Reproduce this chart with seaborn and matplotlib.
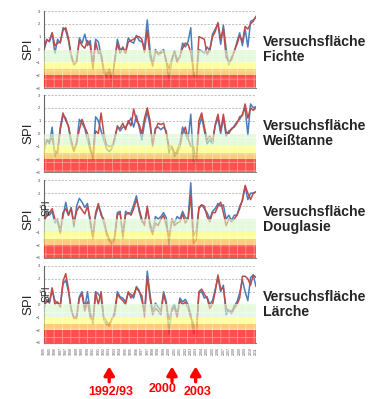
import numpy as np
import pandas as pd
import matplotlib
matplotlib.use("Agg")
import matplotlib.pyplot as plt
import seaborn as sns

# Jahre (Schritt: 4 Monate), 1985 - 2011
years = np.round(np.arange(79) / 3 + 1985, 3)

# SPI-Werte je Versuchsfläche (blau / rot)
fichte_blau = [0.1, 0.8, 0.6, 1.3, -0.3, 0.8, 0.5, 1.7, 1.5, 0.7, -0.6, -1.2, -1.0, 0.9, 0.5, 1.2,
               0.3, 0.7, -1.3, 0.8, 0.6, -0.5, -1.8, -2.2, -1.5, -2.2, -1.0, 0.8, 0.0, 0.1, -0.2, 0.9,
               0.6, 0.5, 1.1, 0.7, 0.6, 0.2, 2.3, 0.0, -1.2, 0.0, -0.3, -0.2, 0.0, -1.0, -2.4, -0.9,
               -0.1, -0.8, -0.6, 0.5, 0.2, 0.6, 1.7, -2.0, -2.2, 0.0, -0.1, -0.3, 0.2, -0.1, 1.2, 1.6,
               2.0, 0.4, 1.9, 0.1, -1.2, -0.6, -0.2, 0.6, 1.3, 0.3, 1.6, 0.2, 2.2, 2.3, 2.5]
fichte_rot = [0.0, 0.7, 0.7, 1.3, 0.3, 0.5, 0.6, 1.5, 1.7, 0.9, -0.4, -1.1, -0.9, 0.7, 0.3, 0.1,
              0.7, 0.3, -1.5, 0.6, -0.3, -0.3, -1.5, -2.0, -1.7, -2.4, -0.8, 0.5, -0.3, 0.2, -0.3, 0.6,
              0.7, 0.8, 1.0, 1.0, 0.8, -0.2, 1.5, -0.5, -1.3, -0.1, -0.4, -0.3, -0.1, -0.9, -1.5, -0.7,
              -0.2, -1.0, -0.5, 0.1, 0.5, 0.4, -0.2, -1.7, -2.5, 1.0, 0.9, 0.8, -0.4, 0.0, 1.0, 1.4,
              2.1, 0.8, 1.6, -0.6, -0.9, -0.8, -0.1, 0.4, 1.1, 0.6, 1.8, 1.6, 2.0, 2.2, 2.6]

tanne_blau = [-1.4, -0.5, -0.8, 0.5, -1.8, -1.3, 0.3, 1.4, 1.2, 0.5, -0.8, -1.4, -0.8, 1.1, 0.8, 0.4,
              -0.5, -1.3, -1.8, 1.3, 1.0, 0.2, -0.5, -1.2, -1.4, -1.2, -0.5, 0.6, 0.2, 0.5, 0.5, 0.8,
              1.2, 0.5, 1.4, 0.5, -0.5, 0.8, 1.7, 0.6, -0.8, 0.4, 0.5, 0.3, 0.5, 0.2, -1.5, -1.0,
              -1.8, -1.3, -0.7, 0.5, 0.0, -0.5, 1.5, -2.2, -2.3, 0.5, 1.3, 0.2, -0.8, -0.5, -0.8, 0.6,
              1.2, 0.0, 1.2, -0.2, 0.2, 0.3, 0.6, 0.9, 1.1, 1.5, 2.0, -0.1, 2.3, 2.0, 2.1]
tanne_rot = [-1.2, -0.5, -0.6, -0.3, -1.4, -1.5, 0.5, 1.6, 1.0, 0.6, -0.5, -1.3, -0.7, 0.3, 1.1, 0.5,
             0.0, -1.0, -2.0, 0.2, 0.0, 1.6, 0.0, -0.9, -1.0, -1.0, -0.3, 0.5, 0.4, 0.8, 0.3, 1.0,
             0.6, 1.9, 1.0, 0.7, 0.0, 1.2, 2.0, 1.0, -1.0, 0.3, 0.8, 0.7, 0.8, 0.0, -1.0, -1.0,
             -1.5, -1.6, -1.0, 0.0, 0.5, -0.4, -1.0, -1.0, -2.2, 1.0, 1.6, 0.5, -0.5, -0.2, -0.6, 0.7,
             1.5, 0.2, 1.5, 0.1, 0.0, 0.4, 0.5, 0.8, 1.3, 1.4, 2.3, 1.2, 2.0, 1.8, 2.0]

douglasie_blau = [-0.3, 0.5, 0.3, 0.6, -0.3, 0.0, -1.0, 0.2, 1.3, 0.3, 0.9, -0.6, 1.0, 1.6, 1.3, 0.9,
                  1.2, -0.3, -1.4, 0.3, 1.0, 0.5, -0.3, -1.2, -1.7, -1.8, -1.3, 0.5, 0.6, -1.5, 0.6, 0.4,
                  0.5, 1.1, 1.8, 0.6, -0.2, -0.3, 0.8, -0.3, -1.0, 0.2, 0.0, 0.2, 0.5, 0.1, -2.0, 0.0,
                  -0.3, 0.2, 0.0, 0.6, 0.1, 0.0, 2.8, -1.3, -0.9, 0.8, 1.1, 0.8, 0.5, 0.0, 0.6, 0.8,
                  1.2, 1.0, 1.1, 0.0, 0.3, -0.1, 0.3, 0.3, 1.0, 1.4, 2.5, 1.5, 2.0, 2.0, 2.1]
douglasie_rot = [-0.2, 0.3, 0.5, 0.8, 0.0, -0.2, -1.1, 0.5, 0.8, 0.3, 0.8, -0.3, 0.6, 1.0, 0.7, 0.4,
                 1.0, 0.0, -1.5, 0.5, 1.2, 0.3, 0.0, -1.0, -1.5, -2.0, -1.5, 0.3, 0.5, -1.3, 0.3, 0.5,
                 0.3, 0.8, 1.5, 0.8, 0.0, -0.5, 1.0, -0.6, -1.2, -0.3, -0.5, 0.0, 0.3, -0.5, -1.5, 0.0,
                 -0.5, -0.3, -0.2, 0.4, -0.3, 0.0, 1.8, -1.9, -1.6, 0.9, 1.1, 1.0, 0.2, -0.2, 0.5, 0.5,
                 1.0, 1.3, 0.5, -0.5, 0.0, -0.2, 0.0, 0.3, 0.8, 1.5, 2.6, 2.0, 1.5, 2.0, 2.1]

laerche_blau = [-0.3, 0.4, 0.1, 1.1, 0.3, 0.1, 0.0, 1.6, 1.9, 1.0, -0.3, -1.1, -0.9, 0.6, 1.0, -0.3,
                1.0, -0.6, -1.5, 1.0, 0.8, 0.5, -1.2, -1.6, -1.5, -1.2, -0.5, 1.0, 0.6, 0.5, 0.2, 0.9,
                0.8, 0.5, 1.4, 1.1, 0.3, -0.6, 2.6, 0.8, -0.6, 0.1, -0.2, -0.5, 1.0, 0.2, -2.3, -0.3,
                0.0, -0.8, 0.5, 0.2, 0.4, 0.0, -0.8, -2.3, -2.0, 0.9, 1.0, 0.5, 0.6, 0.0, 0.3, 1.2,
                2.1, 1.0, 1.5, -0.8, -0.4, -0.6, -0.1, 0.2, 0.9, 1.9, 1.0, 0.3, 2.1, 2.3, 1.4]
laerche_rot = [-0.2, 0.3, 0.2, 1.3, 0.0, 0.2, -0.2, 1.8, 2.4, 1.2, -0.5, -1.0, -1.1, 0.5, 0.8, -0.5,
               0.2, -1.0, -1.3, 0.9, 0.0, 1.0, -1.0, -1.3, -1.7, -1.1, -0.8, 0.8, 0.5, 0.3, 0.0, 1.0,
               0.5, 0.8, 1.3, 1.0, 0.7, -1.0, 2.2, 0.5, -0.8, -0.3, -0.5, -0.8, 0.8, 0.0, -1.2, -0.5,
               -0.2, -1.0, 0.3, 0.0, 0.2, -0.3, -1.0, -1.5, -2.7, 1.0, 1.2, 0.8, 0.5, -0.3, 0.0, 1.0,
               2.3, 1.2, 1.3, -0.3, -0.5, -0.7, -0.3, 0.0, 0.5, 2.2, 2.2, 2.0, 1.5, 2.3, 2.1]

flaechen = ["Versuchsfläche\nFichte", "Versuchsfläche\nWeißtanne",
            "Versuchsfläche\nDouglasie", "Versuchsfläche\nLärche"]
serien = [(fichte_blau, fichte_rot), (tanne_blau, tanne_rot),
          (douglasie_blau, douglasie_rot), (laerche_blau, laerche_rot)]

# Trockenheitsklassen (SPI-Bereiche)
band_grenzen = [(-1.0, 0.0), (-1.5, -1.0), (-2.0, -1.5), (-3.0, -2.0)]
band_farben = ["#d4f5c6", "#ffff66", "#ffb84d", "#ff3030"]
band_alpha = [0.6, 0.65, 0.72, 0.85]

tick_jahre = [1985, 1985, 1986, 1987, 1987, 1988, 1989, 1989, 1990, 1991, 1991, 1992, 1993,
              1993, 1994, 1995, 1995, 1996, 1997, 1997, 1998, 1999, 1999, 2000, 2001, 2001,
              2002, 2003, 2003, 2004, 2005, 2005, 2006, 2007, 2007, 2008, 2009, 2009, 2010, 2011]

pfeil_jahre = [1993.0, 2000.7, 2003.6]
pfeil_texte = ["1992/93", "2000", "2003"]
text_jahre = [1993.2, 1999.6, 2003.8]
text_hoehe = [-0.64, -0.60, -0.64]

BLAU = "#4a7ebb"
ROT = "#be4b48"

sns.set_style("white")
plt.rcParams['font.family'] = ['Liberation Sans', 'DejaVu Sans']
plt.rcParams['hatch.linewidth'] = 0.6

fig = plt.figure(figsize=(3.81, 3.99), dpi=100)

panel_unten = [0.7794, 0.5689, 0.3534, 0.1404]
panel_hoehe = [0.193, 0.193, 0.195, 0.193]

achsen = []
for k in range(4):
    ax = fig.add_axes([0.1155, panel_unten[k], 0.5564, panel_hoehe[k]])
    achsen.append(ax)
    blau, rot = serien[k]
    df = pd.DataFrame({"Jahr": years, "blau": blau, "rot": rot})
    sns.lineplot(data=df, x="Jahr", y="blau", color=BLAU, lw=1.1, ax=ax, zorder=2)
    sns.lineplot(data=df, x="Jahr", y="rot", color=ROT, lw=1.1, ax=ax, zorder=2.1)

    for (lo, hi), farbe, a in zip(band_grenzen, band_farben, band_alpha):
        ax.axhspan(lo, hi, facecolor=farbe, alpha=a, lw=0, zorder=3)
        ax.axhspan(lo, hi, facecolor="none", edgecolor="white", hatch="++",
                   alpha=0.4, lw=0, zorder=3.1)

    ax.set_xlim(1985, 2011)
    ax.set_ylim(-3, 3)
    ax.set_yticks([-3, -2, -1, 0, 1, 2, 3])
    ax.tick_params(axis="y", labelsize=3, length=1.5, width=0.4, pad=1, colors="#444444")
    for y in [1, 2, 3]:
        ax.axhline(y, color="#aaaaaa", lw=0.5, ls=(0, (3, 2)), zorder=1)
    ax.set_xlabel("")
    ax.set_ylabel("")
    for s in ["top", "right"]:
        ax.spines[s].set_visible(False)
    ax.spines["left"].set_color("#666666")
    ax.spines["left"].set_linewidth(0.8)
    ax.spines["bottom"].set_color("#888888")
    ax.spines["bottom"].set_linewidth(0.8)

    if k < 3:
        ax.set_xticks(np.arange(1985, 2012, 1))
        ax.tick_params(axis="x", labelbottom=False, length=1.5, width=0.4, colors="#888888")
    else:
        ax.set_xticks(np.linspace(1985, 2011, len(tick_jahre)))
        ax.set_xticklabels([str(j) for j in tick_jahre], rotation=90, fontsize=2.6,
                           color="#555555")
        ax.tick_params(axis="x", length=1.5, width=0.4, pad=1.5)

    mitte = panel_unten[k] + panel_hoehe[k] / 2
    fig.text(0.075, mitte, "SPI", rotation=90, ha="center", va="center", fontsize=9.5)
    fig.text(0.69, mitte, flaechen[k], ha="left", va="center", fontsize=10.2,
             fontweight="bold", linespacing=1.1)

# kleine, verrutschte SPI-Beschriftungen in Panel 3 und 4
fig.text(0.122, 0.48, "SPI", rotation=90, ha="center", va="center", fontsize=7.5)
fig.text(0.122, 0.265, "SPI", rotation=90, ha="center", va="center", fontsize=7.5)

ax4 = achsen[3]
trans = ax4.get_xaxis_transform()
for jahr, txt, tj, th in zip(pfeil_jahre, pfeil_texte, text_jahre, text_hoehe):
    ax4.annotate("", xy=(jahr, -0.27), xycoords=trans,
                 xytext=(jahr, -0.54), textcoords=trans,
                 arrowprops=dict(arrowstyle="-|>,head_width=0.3,head_length=0.5",
                                 color="red", lw=2.4))
    ax4.text(tj, th, txt, transform=trans, ha="center", va="center", color="red",
             fontsize=9, fontweight="bold")

fig.savefig("out.png", dpi=100)
